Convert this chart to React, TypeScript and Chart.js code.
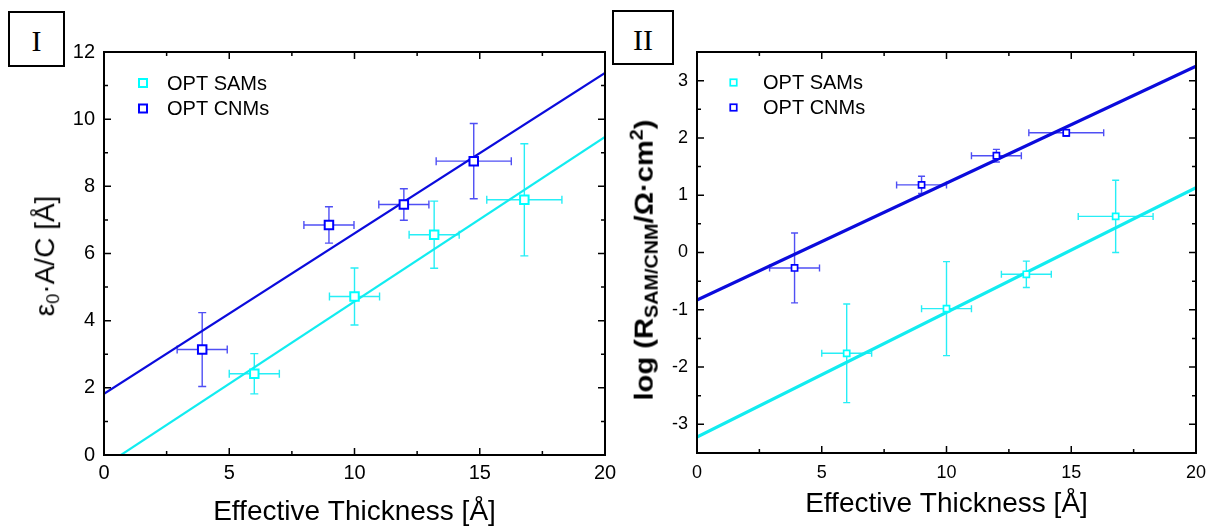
import React, { useEffect, useRef } from 'react';
import { Chart, registerables } from 'chart.js';

Chart.register(...registerables);

const SANS = '"Liberation Sans", Arial, Helvetica, sans-serif';
const SERIF = '"Liberation Serif", "Times New Roman", serif';

const CYAN = '#00FFFF';
const BLUE = '#0000FF';
const CYAN_LINE = '#12ECF0';
const BLUE_LINE = '#0B0BDC';
const CYAN_ERR = 'rgba(0,235,245,0.85)';
const BLUE_ERR = 'rgba(20,20,240,0.75)';

const seriesLabels = ['OPT SAMs', 'OPT CNMs'];

// shared x axis
const xTicks = [0, 5, 10, 15, 20];
const xMinor = [2.5, 7.5, 12.5, 17.5];
const xTitle = 'Effective Thickness [Å]';

// ---------- Panel I ----------
const yTicksI = [0, 2, 4, 6, 8, 10, 12];
const yMinorI = [1, 3, 5, 7, 9, 11];
const samXI = [6.0, 10.0, 13.18, 16.78];
const samYI = [2.42, 4.72, 6.56, 7.6];
const samXErrI = [1.0, 1.0, 1.0, 1.5];
const samYErrI = [0.6, 0.85, 1.0, 1.67];
const cnmXI = [3.92, 8.98, 11.97, 14.76];
const cnmYI = [3.14, 6.85, 7.46, 8.75];
const cnmXErrI = [1.0, 1.0, 1.0, 1.5];
const cnmYErrI = [1.1, 0.54, 0.47, 1.12];
const fitXI = [0, 20];
const fitSamYI = [-0.33, 9.47];
const fitCnmYI = [1.82, 11.38];

// ---------- Panel II ----------
const yTicksII = [-3, -2, -1, 0, 1, 2, 3];
const yMinorII = [-2.5, -1.5, -0.5, 0.5, 1.5, 2.5];
const samXII = [6.0, 10.0, 13.2, 16.78];
const samYII = [-1.76, -0.98, -0.38, 0.63];
const samXErrII = [1.0, 1.0, 1.0, 1.5];
const samYErrII = [0.86, 0.82, 0.23, 0.63];
const cnmXII = [3.91, 9.0, 12.0, 14.8];
const cnmYII = [-0.27, 1.18, 1.69, 2.09];
const cnmXErrII = [1.0, 1.0, 1.0, 1.5];
const cnmYErrII = [0.61, 0.15, 0.11, 0.06];
const fitXII = [0, 20];
const fitSamYII = [-3.22, 1.13];
const fitCnmYII = [-0.83, 3.25];

const pts = (xs: number[], ys: number[]) => xs.map((x, i) => ({ x, y: ys[i] }));

type PanelCfg = {
  left: number;
  width: number;
  pad: { top: number; right: number; left: number; bottom: number };
  yWidth: number;
  xHeight: number;
  yMin: number;
  yMax: number;
  yTicks: number[];
  yMinor: number[];
  tickFont: number;
  xTickPad: number;
  yTickPad: number;
  titlePB: number;
  markerR: number;
  markerBW: number;
  lineW: number;
  cap: number;
  legend: { mx: number; my: number; dy: number; tx: number; size: number; bw: number };
  sam: { x: number[]; y: number[]; xe: number[]; ye: number[] };
  cnm: { x: number[]; y: number[]; xe: number[]; ye: number[] };
  fitX: number[];
  fitSam: number[];
  fitCnm: number[];
};

function makeConfig(c: PanelCfg): any {
  const errPlugin = {
    id: 'errbars',
    beforeDatasetsDraw(chart: any) {
      const { ctx } = chart;
      const xs = chart.scales.x;
      const ys = chart.scales.y;
      ctx.save();
      chart.data.datasets.forEach((ds: any) => {
        if (!ds.xErr) return;
        ctx.strokeStyle = ds.errColor;
        ctx.lineWidth = 1.4;
        ds.data.forEach((p: any, i: number) => {
          const px = xs.getPixelForValue(p.x);
          const py = ys.getPixelForValue(p.y);
          const x1 = xs.getPixelForValue(p.x - ds.xErr[i]);
          const x2 = xs.getPixelForValue(p.x + ds.xErr[i]);
          const y1 = ys.getPixelForValue(p.y - ds.yErr[i]);
          const y2 = ys.getPixelForValue(p.y + ds.yErr[i]);
          const k = c.cap;
          ctx.beginPath();
          ctx.moveTo(x1, py); ctx.lineTo(x2, py);
          ctx.moveTo(x1, py - k); ctx.lineTo(x1, py + k);
          ctx.moveTo(x2, py - k); ctx.lineTo(x2, py + k);
          ctx.moveTo(px, y1); ctx.lineTo(px, y2);
          ctx.moveTo(px - k, y1); ctx.lineTo(px + k, y1);
          ctx.moveTo(px - k, y2); ctx.lineTo(px + k, y2);
          ctx.stroke();
        });
      });
      ctx.restore();
    },
  };

  const framePlugin = {
    id: 'frame',
    afterDraw(chart: any) {
      const { ctx, chartArea: a } = chart;
      const xs = chart.scales.x;
      const ys = chart.scales.y;
      ctx.save();
      ctx.strokeStyle = '#000';
      ctx.lineWidth = 1.5;
      ctx.beginPath();
      const tick = (vals: number[], len: number) => {
        vals.forEach((v) => {
          const px = xs.getPixelForValue(v);
          ctx.moveTo(px, a.bottom); ctx.lineTo(px, a.bottom - len);
          ctx.moveTo(px, a.top); ctx.lineTo(px, a.top + len);
        });
      };
      const tickY = (vals: number[], len: number) => {
        vals.forEach((v) => {
          const py = ys.getPixelForValue(v);
          ctx.moveTo(a.left, py); ctx.lineTo(a.left + len, py);
          ctx.moveTo(a.right, py); ctx.lineTo(a.right - len, py);
        });
      };
      tick(xTicks, 7);
      tick(xMinor, 4);
      tickY(c.yTicks, 7);
      tickY(c.yMinor, 4);
      ctx.stroke();
      ctx.lineWidth = 2;
      ctx.strokeRect(a.left, a.top, a.right - a.left, a.bottom - a.top);

      // legend
      const L = c.legend;
      [0, 1].forEach((i) => {
        const ds = chart.data.datasets[i];
        const cx = a.left + L.mx;
        const cy = a.top + L.my + i * L.dy;
        ctx.fillStyle = '#fff';
        ctx.fillRect(cx - L.size / 2, cy - L.size / 2, L.size, L.size);
        ctx.strokeStyle = ds.pointBorderColor;
        ctx.lineWidth = L.bw;
        ctx.strokeRect(cx - L.size / 2, cy - L.size / 2, L.size, L.size);
        ctx.fillStyle = '#000';
        ctx.font = `20px ${SANS}`;
        ctx.textAlign = 'left';
        ctx.textBaseline = 'middle';
        ctx.fillText(ds.label, a.left + L.tx, cy + 1);
      });
      ctx.restore();
    },
  };

  const mkScatter = (label: string, s: any, color: string, err: string) => ({
    label,
    data: pts(s.x, s.y),
    xErr: s.xe,
    yErr: s.ye,
    errColor: err,
    pointStyle: 'rect',
    pointRadius: c.markerR,
    pointBorderWidth: c.markerBW,
    pointBackgroundColor: '#fff',
    pointBorderColor: color,
    borderColor: color,
    backgroundColor: '#fff',
    showLine: false,
  });

  const mkFit = (ys: number[], color: string) => ({
    label: '',
    data: pts(c.fitX, ys),
    showLine: true,
    borderColor: color,
    borderWidth: c.lineW,
    pointRadius: 0,
    fill: false,
    clip: 0,
  });

  return {
    type: 'scatter',
    data: {
      datasets: [
        mkScatter(seriesLabels[0], c.sam, CYAN, CYAN_ERR),
        mkScatter(seriesLabels[1], c.cnm, BLUE, BLUE_ERR),
        mkFit(c.fitSam, CYAN_LINE),
        mkFit(c.fitCnm, BLUE_LINE),
      ],
    },
    options: {
      responsive: false,
      animation: false,
      devicePixelRatio: 1,
      layout: { padding: c.pad },
      plugins: { legend: { display: false }, tooltip: { enabled: false } },
      scales: {
        x: {
          type: 'linear',
          min: 0,
          max: 20,
          grid: { display: false, drawTicks: false },
          border: { display: false },
          afterBuildTicks: (s: any) => { s.ticks = xTicks.map((v) => ({ value: v })); },
          afterFit: (s: any) => { s.height = c.xHeight; s.paddingLeft = 0; s.paddingRight = 0; },
          ticks: {
            color: '#000',
            padding: c.xTickPad,
            maxRotation: 0,
            font: { family: SANS, size: c.tickFont },
          },
          title: {
            display: true,
            text: xTitle,
            color: '#000',
            font: { family: SANS, size: 28, lineHeight: 1 },
            padding: { top: 0, bottom: c.titlePB },
          },
        },
        y: {
          type: 'linear',
          min: c.yMin,
          max: c.yMax,
          grid: { display: false, drawTicks: false },
          border: { display: false },
          afterBuildTicks: (s: any) => { s.ticks = c.yTicks.map((v) => ({ value: v })); },
          afterFit: (s: any) => { s.width = c.yWidth; s.paddingTop = 0; s.paddingBottom = 0; },
          ticks: {
            color: '#000',
            padding: c.yTickPad,
            font: { family: SANS, size: c.tickFont },
          },
        },
      },
    },
    plugins: [errPlugin, framePlugin],
  };
}

const panelI: PanelCfg = {
  left: 0,
  width: 620,
  pad: { top: 52, right: 15, left: 0, bottom: 0 },
  yWidth: 104,
  xHeight: 71,
  yMin: 0,
  yMax: 12,
  yTicks: yTicksI,
  yMinor: yMinorI,
  tickFont: 20,
  xTickPad: 6,
  yTickPad: 9,
  titlePB: 0,
  markerR: 6,
  markerBW: 2,
  lineW: 2.2,
  cap: 4,
  legend: { mx: 39, my: 31, dy: 25.5, tx: 63, size: 8, bw: 2 },
  sam: { x: samXI, y: samYI, xe: samXErrI, ye: samYErrI },
  cnm: { x: cnmXI, y: cnmYI, xe: cnmXErrI, ye: cnmYErrI },
  fitX: fitXI,
  fitSam: fitSamYI,
  fitCnm: fitCnmYI,
};

const panelII: PanelCfg = {
  left: 607,
  width: 607,
  pad: { top: 52, right: 18, left: 0, bottom: 0 },
  yWidth: 90,
  xHeight: 73,
  yMin: -3.5,
  yMax: 3.5,
  yTicks: yTicksII,
  yMinor: yMinorII,
  tickFont: 18,
  xTickPad: 9,
  yTickPad: 9,
  titlePB: 8,
  markerR: 4.3,
  markerBW: 1.7,
  lineW: 3.2,
  cap: 3.5,
  legend: { mx: 36.5, my: 30.5, dy: 25, tx: 66, size: 6.5, bw: 1.7 },
  sam: { x: samXII, y: samYII, xe: samXErrII, ye: samYErrII },
  cnm: { x: cnmXII, y: cnmYII, xe: cnmXErrII, ye: cnmYErrII },
  fitX: fitXII,
  fitSam: fitSamYII,
  fitCnm: fitCnmYII,
};

function Panel({ cfg }: { cfg: PanelCfg }) {
  const ref = useRef<HTMLCanvasElement>(null);
  useEffect(() => {
    const chart = new Chart(ref.current as HTMLCanvasElement, makeConfig(cfg));
    return () => chart.destroy();
  }, [cfg]);
  return (
    <canvas
      ref={ref}
      width={cfg.width}
      height={526}
      style={{ position: 'absolute', left: cfg.left, top: 0, width: cfg.width, height: 526 }}
    />
  );
}

const boxStyle = (left: number, top: number, w: number, h: number): React.CSSProperties => ({
  position: 'absolute',
  left,
  top,
  width: w,
  height: h,
  boxSizing: 'border-box',
  border: '2px solid #000',
  display: 'flex',
  alignItems: 'center',
  justifyContent: 'center',
  fontFamily: SERIF,
  fontSize: 30,
  lineHeight: 1,
  paddingTop: 4,
  background: '#fff',
});

const vTitle = (cx: number, cy: number, extra: React.CSSProperties, sx = 1): React.CSSProperties => ({
  position: 'absolute',
  left: cx,
  top: cy,
  transform: `translate(-50%, -50%) rotate(-90deg) scaleX(${sx})`,
  whiteSpace: 'nowrap',
  fontFamily: SANS,
  lineHeight: 1,
  color: '#000',
  ...extra,
});

export default function App() {
  return (
    <div
      style={{
        position: 'absolute',
        left: 0,
        top: 0,
        width: 1214,
        height: 526,
        overflow: 'hidden',
        background: '#fff',
      }}
    >
      <Panel cfg={panelI} />
      <Panel cfg={panelII} />
      <div style={boxStyle(8, 11, 57, 56)}>I</div>
      <div style={boxStyle(612, 10, 62, 55)}>II</div>
      <div style={vTitle(47, 256, { fontSize: 28 })}>
        ε<span style={{ fontSize: '0.65em', verticalAlign: '-0.3em' }}>0</span>·A/C [Å]
      </div>
      <div style={vTitle(645, 260, { fontSize: 26, fontWeight: 'bold' }, 1.12)}>
        log (R<span style={{ fontSize: '0.68em', verticalAlign: '-0.3em' }}>SAM/CNM</span>/Ω·cm
        <span style={{ fontSize: '0.68em', verticalAlign: '0.55em' }}>2</span>)
      </div>
    </div>
  );
}
